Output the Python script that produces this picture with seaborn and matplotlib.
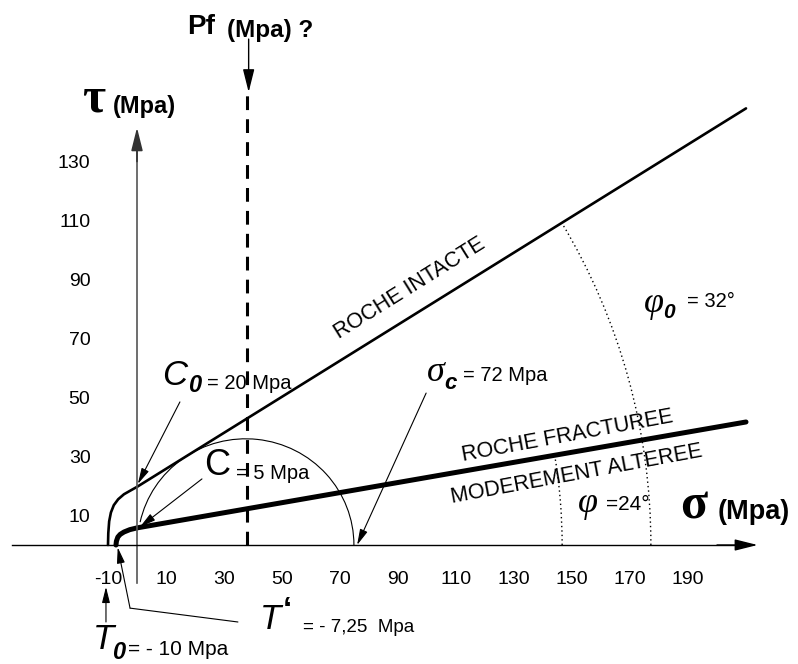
import matplotlib
matplotlib.use("Agg")
import matplotlib.pyplot as plt
from matplotlib.patches import Arc
import numpy as np
import pandas as pd
import seaborn as sns

# ─── Values (MPa) ─────────────────────────────────────────────────────────────
intact_sigma = [-10, -9.9, -9.6, -9.0, -8.0, -6.5, -4.5, -2.0, 0, 210]
intact_tau   = [0, 4, 8, 11, 13.5, 15.5, 17.2, 18.6, 19.7, 148]

fract_sigma = [-7.25, -7.1, -6.6, -5.8, -4.5, -2.5, 0, 210]
fract_tau   = [0, 1.3, 2.7, 3.6, 4.4, 5.2, 5.8, 41.7]

mohr_center = 37.5
mohr_half_width = 37.3
mohr_half_height = 36.0
mohr_end_angle = 168

pf_sigma = 38
pf_top = 152.5

# dotted angle arcs: (centre on sigma axis, radius)
phi0_arc = (-32.2, 209.4)
phi_arc = (-34.1, 180.7)

x_ticks = [-10, 10, 30, 50, 70, 90, 110, 130, 150, 170, 190]
y_ticks = [10, 30, 50, 70, 90, 110, 130]

T0, T_prime = -10, -7.25

SANS = ["Liberation Sans", "DejaVu Sans"]
SERIF = ["Liberation Serif", "DejaVu Serif"]

# ─── Figure ───────────────────────────────────────────────────────────────────
sns.set_style("white")
plt.rcParams["font.family"] = SANS
plt.rcParams["text.color"] = "black"
plt.rcParams["xtick.color"] = "black"
plt.rcParams["ytick.color"] = "black"
plt.rcParams["axes.unicode_minus"] = False

fig = plt.figure(figsize=(7.98, 6.64), dpi=100)
ax = fig.add_axes([0, 0, 1, 1])

# ─── Envelopes ────────────────────────────────────────────────────────────────
env = pd.DataFrame({"sigma": intact_sigma, "tau": intact_tau})
sns.lineplot(data=env, x="sigma", y="tau", ax=ax, color="black", lw=1.9,
             estimator=None, sort=False)
frac = pd.DataFrame({"sigma": fract_sigma, "tau": fract_tau})
sns.lineplot(data=frac, x="sigma", y="tau", ax=ax, color="black", lw=3.6,
             estimator=None, sort=False, solid_capstyle="round")

ax.set_xlim(-137 / 2.9, (798 - 137) / 2.9)
ax.set_ylim((545 - 664) / 2.95, 545 / 2.95)
ax.set_xlabel("")
ax.set_ylabel("")

# axes through the origin
for side in ("top", "right"):
    ax.spines[side].set_visible(False)
ax.spines["left"].set_position(("data", 0))
ax.spines["bottom"].set_position(("data", 0))
ax.spines["bottom"].set_bounds(-43, 206)
ax.spines["left"].set_bounds(-13, 136)
ax.spines["bottom"].set_color("black")
ax.spines["bottom"].set_linewidth(1.0)
ax.spines["left"].set_color("#555555")
ax.spines["left"].set_linewidth(1.2)

ax.set_xticks(x_ticks)
ax.set_yticks(y_ticks)
ax.tick_params(axis="x", direction="out", length=5, width=1, pad=14, labelsize=14,
               labelcolor="black")
ax.tick_params(axis="y", direction="out", length=4.5, width=1, pad=29, labelsize=14,
               color="#555555", labelcolor="black")

head = dict(arrowstyle="-|>,head_length=1.4,head_width=0.35", mutation_scale=10,
            color="black", lw=1.0, shrinkA=0, shrinkB=0)
ax.annotate("", xy=(214, 0), xytext=(200, 0), arrowprops=head)
ax.annotate("", xy=(0, 141.5), xytext=(0, 130),
            arrowprops=dict(head, color="#333333", lw=1.2))

# Mohr circle (uniaxial compression)
ax.add_patch(Arc((mohr_center, 0), 2 * mohr_half_width, 2 * mohr_half_height,
                 theta1=0, theta2=mohr_end_angle, color="black", lw=0.8))

# friction angle arcs
ang0 = np.degrees(np.arctan((intact_tau[-1] - intact_tau[-2]) / (intact_sigma[-1] - intact_sigma[-2])))
ang1 = np.degrees(np.arctan((fract_tau[-1] - fract_tau[-2]) / (fract_sigma[-1] - fract_sigma[-2])))
for (c, r), a in ((phi0_arc, ang0), (phi_arc, ang1)):
    ax.add_patch(Arc((c, 0), 2 * r, 2 * r, theta1=0, theta2=a, color="black",
                     lw=1.0, linestyle=(0, (1, 2.2))))

# Pf dashed line
ax.plot([pf_sigma, pf_sigma], [0, pf_top], color="black", lw=2.2, ls=(0, (4.5, 3)))
ax.annotate("", xy=(pf_sigma + 0.5, 153.5), xytext=(pf_sigma + 0.5, 171.5),
            arrowprops=dict(head, lw=1.0))

# ─── Labels ───────────────────────────────────────────────────────────────────
ax.text(-15.0, 151.0, "τ", family=SERIF, fontsize=36, weight="bold", ha="center", va="center")
ax.text(-8.2, 148.5, "(Mpa)", fontsize=17, weight="bold", ha="left", va="center")

ax.text(17.2, 175.5, "Pf", fontsize=20, weight="bold", ha="left", va="center")
ax.text(31.0, 174.5, "(Mpa) ?", fontsize=17.5, weight="bold", ha="left", va="center")

ax.text(191.8, 13.0, "σ", family=SERIF, fontsize=36, weight="bold", ha="center", va="center")
ax.text(200.3, 11.2, "(Mpa)", fontsize=19.5, weight="bold", ha="left", va="center")

ax.text(94.1, 87.1, "ROCHE INTACTE", fontsize=15.5, rotation=32,
        ha="center", va="center", rotation_mode="anchor")
ax.text(148.6, 37.0, "ROCHE FRACTUREE", fontsize=15.5, rotation=10.5,
        ha="center", va="center", rotation_mode="anchor")
ax.text(151.7, 24.0, "MODEREMENT ALTEREE", fontsize=15.5, rotation=10.5,
        ha="center", va="center", rotation_mode="anchor")

# friction angles
ax.text(178.4, 82.0, "φ", family=SERIF, fontsize=26, style="italic", ha="center", va="center")
ax.text(183.4, 78.9, "0", fontsize=15, weight="bold", style="italic", ha="center", va="center")
ax.text(189.6, 82.4, "= 32°", fontsize=14.5, ha="left", va="center")
ax.text(155.5, 14.2, "φ", family=SERIF, fontsize=26, style="italic", ha="center", va="center")
ax.text(161.7, 13.6, "=24°", fontsize=15, ha="left", va="center")

# compressive strength
ax.text(103.0, 58.6, "σ", family=SERIF, fontsize=26, style="italic", ha="center", va="center")
ax.text(108.0, 54.6, "c", fontsize=16, weight="bold", style="italic", ha="center", va="center")
ax.text(112.4, 57.3, "= 72 Mpa", fontsize=14.5, ha="left", va="center")
thin = dict(arrowstyle="-|>,head_length=1.2,head_width=0.3", mutation_scale=8,
            color="black", lw=0.8, shrinkA=0, shrinkB=0)
ax.annotate("", xy=(75.9, 0), xytext=(99.7, 51.5), arrowprops=thin)

# cohesions
ax.text(13.1, 57.3, "C", fontsize=25, style="italic", ha="center", va="center")
ax.text(19.7, 54.2, "0", fontsize=17, weight="bold", style="italic", ha="center", va="center")
ax.text(24.3, 54.9, "= 20 Mpa", fontsize=14.5, ha="left", va="center")
ax.annotate("", xy=(0.3, 20.7), xytext=(14.8, 48.5), arrowprops=thin)

ax.text(27.5, 26.8, "C", fontsize=26, ha="center", va="center")
ax.text(34.1, 24.4, "= 5 Mpa", fontsize=14.5, ha="left", va="center")
ax.annotate("", xy=(1.0, 6.1), xytext=(22.4, 22.4), arrowprops=thin)

# tensile strengths
ax.text(-11.4, -31.9, "T", fontsize=25, style="italic", ha="center", va="center")
ax.text(-6.2, -36.6, "0", fontsize=17, weight="bold", style="italic", ha="center", va="center")
ax.text(-3.1, -35.3, "= - 10 Mpa", fontsize=15, ha="left", va="center")
ax.annotate("", xy=(T0 - 0.7, -14.2), xytext=(T0 - 0.7, -26.1), arrowprops=thin)

ax.text(45.9, -25.4, "T", fontsize=25, style="italic", ha="center", va="center")
ax.text(51.9, -22.7, "‘", fontsize=24, weight="bold", ha="center", va="center")
ax.text(57.2, -28.1, "= - 7,25  Mpa", fontsize=13.5, ha="left", va="center")
ax.plot([34.8, -2.4], [-26.1, -21.4], color="black", lw=0.8)
ax.annotate("", xy=(T_prime + 0.6, -0.8), xytext=(-2.4, -21.4), arrowprops=thin)

fig.savefig("out.png", dpi=100)
